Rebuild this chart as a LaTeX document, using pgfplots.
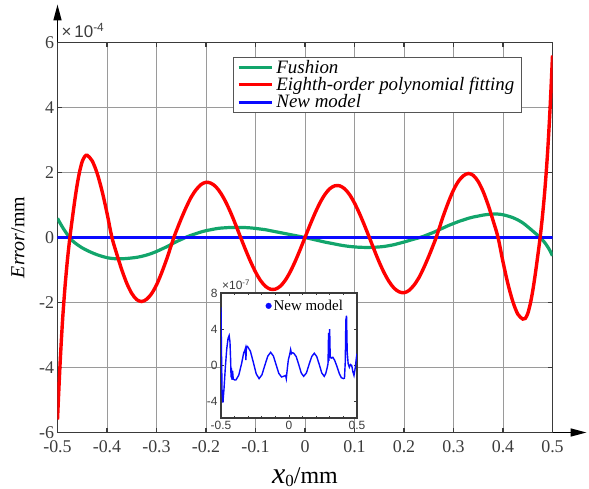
\documentclass[border=0pt]{standalone}
\usepackage{fontspec}
\setmainfont{Liberation Serif}
\newfontfamily\sansf{Liberation Sans}
\usepackage{pgfplots}
\pgfplotsset{compat=1.18}
\usetikzlibrary{arrows.meta}
\definecolor{axisgray}{HTML}{3A3A3A}
\definecolor{gridgray}{HTML}{9A9A9A}
\definecolor{labelgray}{HTML}{3C3C3C}
\definecolor{fgreen}{HTML}{12A56B}
\definecolor{fred}{HTML}{FF0000}
\definecolor{fblue}{HTML}{0A0AFF}
\definecolor{leggray}{HTML}{555555}
\begin{document}
\begin{tikzpicture}
\useasboundingbox (-57.5bp,-56.5bp) rectangle (531.5bp,432.5bp);
\begin{axis}[
  name=main, at={(0,0)}, anchor=south west,
  scale only axis, width=495bp, height=390bp,
  xmin=-0.5, xmax=0.5, ymin=-6, ymax=6,
  xtick={-0.5,-0.4,-0.3,-0.2,-0.1,0,0.1,0.2,0.3,0.4,0.5},
  xticklabels={-0.5,-0.4,-0.3,-0.2,-0.1,0,0.1,0.2,0.3,0.4,0.5},
  ytick={-6,-4,-2,0,2,4,6},
  yticklabels={-6,-4,-2,0,2,4,6},
  grid=major, major grid style={color=gridgray, line width=0.8bp},
  axis line style={color=axisgray, line width=1.6bp},
  tick style={color=axisgray, line width=1.2bp},
  major tick length=5bp, tick align=inside,
  ticklabel style={font=\fontsize{18}{18}\selectfont, text=labelgray},
  xticklabel style={inner ysep=0bp, yshift=-8bp},
  yticklabel style={inner ysep=0bp},
  every axis x label/.style={at={(axis description cs:0.5,-0.13)}, anchor=base},
  every axis y label/.style={at={(axis description cs:-0.08,0.5)}, rotate=90, anchor=center},
  xlabel={{\fontsize{30}{30}\selectfont\textit{x}}{\fontsize{17}{17}\selectfont\raisebox{-3bp}{0}}{\fontsize{24}{24}\selectfont/mm}},
  ylabel={\fontsize{20}{20}\selectfont\textit{Error}/mm},
  legend style={at={(0.938,0.963)}, anchor=north east, draw=leggray, line width=0.8bp, fill=white,
    font=\itshape\fontsize{19}{19}\selectfont, inner xsep=4bp, inner ysep=2bp, row sep=1.5bp,
    nodes={inner ysep=0.6bp, inner xsep=3bp}, cells={anchor=west}},
  legend image code/.code={\draw[#1] (0bp,0bp) -- (33bp,0bp);},
]
\addplot[fgreen, line width=3.2bp, smooth] table {
-0.500 0.59
-0.495 0.45
-0.490 0.32
-0.485 0.20
-0.480 0.09
-0.475 -0.01
-0.470 -0.10
-0.460 -0.22
-0.450 -0.32
-0.440 -0.40
-0.430 -0.47
-0.420 -0.53
-0.410 -0.58
-0.400 -0.62
-0.390 -0.645
-0.380 -0.655
-0.370 -0.655
-0.360 -0.645
-0.350 -0.63
-0.340 -0.61
-0.330 -0.58
-0.320 -0.54
-0.310 -0.49
-0.300 -0.43
-0.290 -0.36
-0.280 -0.29
-0.270 -0.21
-0.260 -0.13
-0.250 -0.06
-0.240 0.01
-0.230 0.07
-0.220 0.12
-0.210 0.17
-0.200 0.21
-0.190 0.24
-0.180 0.27
-0.170 0.29
-0.160 0.30
-0.150 0.31
-0.140 0.31
-0.130 0.31
-0.120 0.305
-0.110 0.295
-0.100 0.28
-0.090 0.26
-0.080 0.24
-0.070 0.21
-0.060 0.18
-0.050 0.15
-0.040 0.12
-0.030 0.09
-0.020 0.06
-0.010 0.03
0.000 0.0
0.010 -0.035
0.020 -0.07
0.030 -0.105
0.040 -0.14
0.050 -0.17
0.060 -0.20
0.070 -0.23
0.080 -0.255
0.090 -0.275
0.100 -0.29
0.110 -0.30
0.120 -0.305
0.130 -0.305
0.140 -0.30
0.150 -0.29
0.160 -0.275
0.170 -0.25
0.180 -0.22
0.190 -0.18
0.200 -0.14
0.210 -0.095
0.220 -0.05
0.230 -0.01
0.240 0.04
0.250 0.10
0.260 0.16
0.270 0.23
0.280 0.30
0.290 0.37
0.300 0.43
0.310 0.49
0.320 0.54
0.330 0.59
0.340 0.63
0.350 0.66
0.360 0.69
0.370 0.71
0.380 0.72
0.390 0.72
0.400 0.70
0.410 0.66
0.420 0.61
0.430 0.54
0.440 0.45
0.450 0.33
0.460 0.20
0.470 0.07
0.475 0.0
0.480 -0.08
0.485 -0.17
0.490 -0.28
0.495 -0.41
0.500 -0.56
};
\addlegendentry{Fushion}
\addplot[fblue, line width=3bp, forget plot] table {
-0.5 0
0.5 0
};
\addplot[fred, line width=3.4bp, smooth] table {
-0.500 -5.60
-0.495 -3.95
-0.490 -2.60
-0.485 -1.55
-0.480 -0.70
-0.475 0
-0.470 0.59
-0.465 1.15
-0.460 1.65
-0.455 2.05
-0.450 2.34
-0.445 2.49
-0.440 2.53
-0.430 2.36
-0.420 1.98
-0.410 1.43
-0.400 0.75
-0.390 0
-0.380 -0.52
-0.370 -1.00
-0.360 -1.41
-0.350 -1.72
-0.340 -1.91
-0.330 -1.97
-0.320 -1.90
-0.310 -1.73
-0.300 -1.46
-0.290 -1.10
-0.280 -0.69
-0.270 -0.23
-0.265 0
-0.260 0.20
-0.250 0.58
-0.240 0.93
-0.230 1.24
-0.220 1.47
-0.210 1.63
-0.200 1.70
-0.190 1.67
-0.180 1.56
-0.170 1.36
-0.160 1.09
-0.150 0.76
-0.140 0.39
-0.130 0
-0.120 -0.38
-0.110 -0.74
-0.100 -1.06
-0.090 -1.32
-0.080 -1.50
-0.070 -1.59
-0.060 -1.59
-0.050 -1.50
-0.040 -1.32
-0.030 -1.06
-0.020 -0.74
-0.010 -0.38
0.000 0
0.010 0.38
0.020 0.74
0.030 1.06
0.040 1.32
0.050 1.50
0.060 1.59
0.070 1.59
0.080 1.50
0.090 1.32
0.100 1.06
0.110 0.74
0.120 0.38
0.130 0
0.140 -0.39
0.150 -0.76
0.160 -1.09
0.170 -1.36
0.180 -1.56
0.190 -1.67
0.200 -1.70
0.210 -1.63
0.220 -1.47
0.230 -1.24
0.240 -0.93
0.250 -0.58
0.260 -0.20
0.265 0
0.270 0.23
0.280 0.69
0.290 1.10
0.300 1.46
0.310 1.73
0.320 1.90
0.330 1.97
0.340 1.91
0.350 1.72
0.360 1.41
0.370 1.00
0.380 0.52
0.390 0
0.400 -0.75
0.410 -1.43
0.420 -1.98
0.430 -2.36
0.440 -2.51
0.445 -2.49
0.450 -2.34
0.455 -2.05
0.460 -1.65
0.465 -1.15
0.470 -0.59
0.475 0
0.480 0.70
0.485 1.55
0.490 2.60
0.495 3.95
0.500 5.60
};
\addlegendentry{Eighth-order polynomial fitting}
\addlegendimage{fblue, line width=3bp}
\addlegendentry{New model}
\end{axis}
\draw[black, line width=1.6bp, -{Triangle[length=16bp, width=8bp]}] (main.north west) -- ++(0,38bp);
\draw[black, line width=1.6bp, -{Triangle[length=16bp, width=8bp]}] (main.south east) -- ++(34bp,0);
\node[anchor=base west, text=labelgray, font=\sansf\fontsize{17}{17}\selectfont, inner sep=0] at ([xshift=4bp,yshift=5bp]main.north west) {×\,10\textsuperscript{-4}};
\begin{axis}[
  name=inset, at={(163.5bp,14.5bp)}, anchor=south west,
  scale only axis, width=136bp, height=125bp,
  xmin=-0.5, xmax=0.5, ymin=-5.8, ymax=8,
  xtick={-0.5,0,0.5}, xticklabels={-0.5,0,0.5},
  minor xtick={-0.4,-0.3,-0.2,-0.1,0.1,0.2,0.3,0.4},
  ytick={-4,0,4,8}, yticklabels={-4,0,4,8},
  axis background/.style={fill=white},
  axis line style={color=axisgray, line width=1.2bp},
  tick style={color=axisgray, line width=0.8bp},
  major tick length=3bp, minor tick length=2bp, tick align=inside,
  ticklabel style={font=\sansf\fontsize{12}{12}\selectfont, text=labelgray},
  legend style={at={(0.92,0.97)}, anchor=north east, draw=none, fill=none,
    font=\fontsize{15}{15}\selectfont, inner sep=1bp, nodes={inner xsep=2bp}},
  legend image code/.code={\fill[fblue] (2bp,0bp) circle (2.8bp);},
]
\addlegendimage{fblue}
\addlegendentry{New model}
\addplot[fblue, line width=1.4bp, forget plot] table {
-0.500 6.4
-0.497 2.0
-0.492 -3.0
-0.486 -4.1
-0.478 -2.6
-0.468 -0.2
-0.458 1.8
-0.448 3.0
-0.440 3.3
-0.434 2.6
-0.429 0.5
-0.426 -1.3
-0.423 -0.3
-0.419 -1.6
-0.415 -0.6
-0.410 -1.5
-0.400 -1.6
-0.390 -1.6
-0.369 -1.06
-0.348 0.25
-0.333 1.4
-0.326 1.6
-0.320 1.9
-0.317 0.6
-0.313 2.1
-0.305 2.1
-0.284 1.58
-0.262 0.33
-0.241 -0.93
-0.220 -1.45
-0.199 -1.03
-0.178 0.0
-0.156 1.03
-0.135 1.45
-0.115 1.05
-0.095 0.09
-0.075 -0.87
-0.055 -1.27
-0.040 -1.2
-0.025 -1.1
-0.020 -1.45
-0.012 -0.3
-0.005 0.6
0.005 1.2
0.012 1.75
0.018 1.3
0.025 1.4
0.035 1.35
0.053 0.98
0.072 0.08
0.090 -0.83
0.108 -1.2
0.128 -0.83
0.147 0.08
0.167 0.98
0.186 1.35
0.204 0.98
0.223 0.08
0.241 -0.83
0.259 -1.2
0.270 -0.9
0.280 -0.3
0.287 0.2
0.291 3.6
0.294 0.5
0.299 4.0
0.303 1.0
0.310 0.8
0.322 0.9
0.335 0.6
0.350 0.0
0.370 -0.9
0.385 -1.35
0.400 -1.45
0.408 -1.4
0.414 0.5
0.418 5.0
0.423 5.5
0.428 1.5
0.435 0.2
0.444 -0.2
0.452 0.1
0.461 0.0
0.470 -0.7
0.478 -1.1
0.488 -0.2
0.495 0.8
0.500 1.3
};
\end{axis}
\node[anchor=base west, text=labelgray, font=\sansf\fontsize{12}{12}\selectfont, inner sep=0] at ([xshift=1bp,yshift=3bp]inset.north west) {×10\textsuperscript{-7}};
\end{tikzpicture}
\end{document}
